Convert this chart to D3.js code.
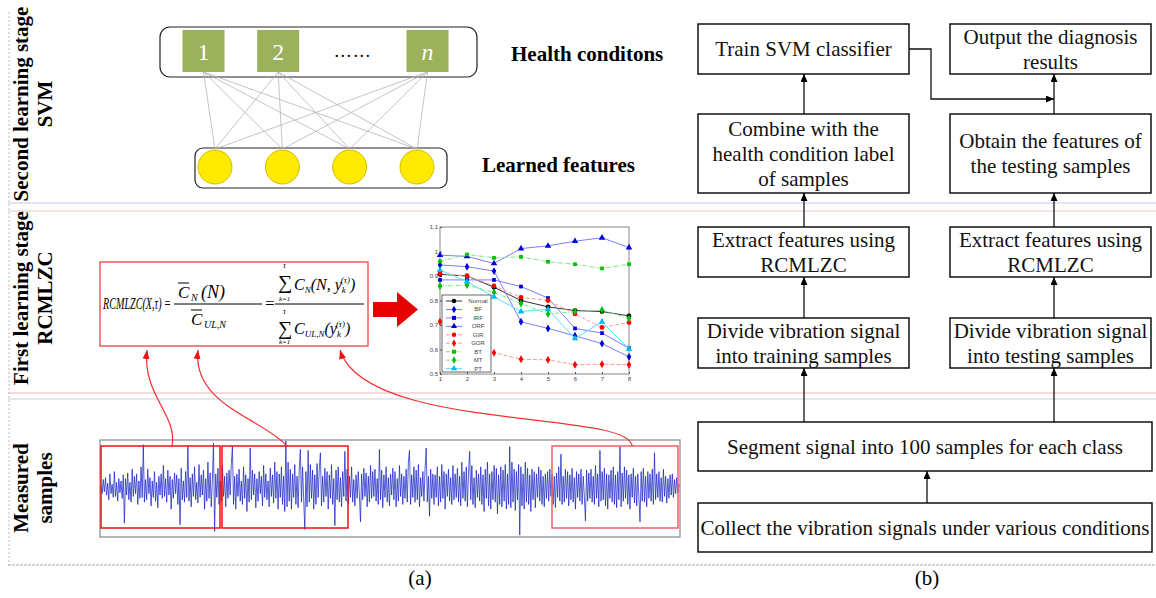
<!DOCTYPE html>
<html>
<head>
<meta charset="utf-8">
<title>Two-stage diagnosis framework</title>
<script src="https://d3js.org/d3.v7.min.js"></script>
<style>
  body { margin: 0; background: #fff; }
  svg { display: block; }
  .serif { font-family: "Liberation Serif", "Times New Roman", serif; }
  .tiny text { font-family: "Liberation Sans", Arial, sans-serif; font-size: 6px; fill: #444; }
</style>
</head>
<body>
<div id="chart"></div>
<script>
// ---- data ----
var stageLabels = [["Second learning stage", "SVM"], ["First learning stage", "RCMLZC"], ["Measured", "samples"]];
var healthLabels = ["1", "2", "n"];
var featureIds = [1, 2, 3, 4];

var scaleFactors = [1, 2, 3, 4, 5, 6, 7, 8];
var yTickValues = [0.5, 0.6, 0.7, 0.8, 0.9, 1.0, 1.1];
var seriesNames = ["Normal", "BF", "IRF", "ORF", "GIR", "GOR", "BT", "MT", "PT"];
var normalVals = [0.907, 0.900, 0.854, 0.800, 0.774, 0.759, 0.755, 0.737];
var bfVals     = [0.945, 0.938, 0.920, 0.713, 0.686, 0.656, 0.624, 0.570];
var irfVals    = [0.884, 0.884, 0.884, 0.857, 0.810, 0.686, 0.667, 0.605];
var orfVals    = [0.985, 0.980, 0.951, 1.012, 1.023, 1.042, 1.056, 1.016];
var girVals    = [0.910, 0.900, 0.860, 0.813, 0.800, 0.745, 0.690, 0.710];
var gorVals    = [0.713, 0.650, 0.587, 0.560, 0.558, 0.538, 0.540, 0.538];
var btVals     = [0.960, 0.988, 0.974, 0.978, 0.958, 0.948, 0.931, 0.948];
var mtVals     = [0.859, 0.863, 0.833, 0.788, 0.745, 0.755, 0.761, 0.727];
var ptVals     = [0.924, 0.877, 0.815, 0.755, 0.764, 0.645, 0.713, 0.602];

var trainColumn = [["Train SVM classifier"], ["Combine with the", "health condition label", "of samples"],
                   ["Extract features using", "RCMLZC"], ["Divide vibration signal", "into training samples"]];
var testColumn  = [["Output the diagnosis", "results"], ["Obtain the features of", "the testing samples"],
                   ["Extract features using", "RCMLZC"], ["Divide vibration signal", "into testing samples"]];
var segmentText = ["Segment signal into 100 samples for each class"];
var collectText = ["Collect the vibration signals under various conditions"];
var panelCaptions = ["(a)", "(b)"];

// vibration signal, amplitude (percent of the strip half-height)
var signalVals = [
  5,-12,18,-8,22,-15,10,-25,30,-12,8,-20,35,-18,12,-28,20,-10,15,-22,
  28,-75,20,-15,32,-25,12,-30,40,-18,25,-12,30,-35,15,-22,45,-20,92,-30,
  18,-25,40,-12,22,-38,15,-20,35,-28,12,-42,25,-15,30,-22,48,-18,20,-30,
  38,-15,25,-45,18,-22,32,-12,28,-35,20,-78,42,-25,15,-30,35,-20,90,-28,
  22,-40,30,-18,45,-25,12,-32,50,-20,28,-15,38,-45,20,-28,55,-22,32,-40,
  18,95,-92,30,-20,42,-35,15,-28,48,-18,25,-40,32,-22,38,-15,50,88,-35,
  25,-45,30,-18,40,-28,15,-35,45,-22,28,-50,20,-30,85,-25,38,-15,30,-42,
  20,-28,35,-12,25,-38,48,-20,30,-25,15,-40,42,-18,28,-32,55,-22,35,-45,
  30,-20,45,-35,25,-50,100,-40,55,-28,40,-45,30,-20,50,-35,25,-42,38,82,
  -30,45,-25,-88,35,-40,80,-30,50,-22,38,-45,28,-35,52,-20,40,75,-38,25,
  -30,42,-18,35,-45,28,-22,50,-35,20,-80,38,-25,45,-30,22,-40,35,-18,78,
  -28,40,-35,25,-20,45,-30,18,-38,28,-22,35,-15,-72,30,-25,42,-18,32,-40,
  25,-30,48,-22,35,-18,40,-28,20,-35,82,-25,38,-42,28,-20,45,-30,22,-38,
  30,-15,42,-25,35,-40,20,-28,48,-18,30,-35,25,-22,40,-30,55,80,-35,28,
  -20,45,-30,38,-25,50,-40,22,-18,35,-28,42,85,-30,25,-60,40,-22,30,-35,
  28,-20,45,-38,25,-30,50,-22,35,-45,30,-18,40,-28,22,-35,48,-25,30,-20,
  42,-30,25,-38,55,-22,35,-28,45,-40,30,78,-25,48,-35,22,-42,38,-20,30,
  -28,45,-35,28,-50,40,-22,55,-38,30,-45,35,-25,48,-30,42,-55,28,-35,45,
  -40,38,-28,50,-45,30,-35,88,-42,55,-30,40,-48,35,-25,50,-100,45,-38,30,
  -45,55,-30,42,-35,28,-50,40,-25,35,-42,30,-20,45,-28,38,-35,25,-40,30,
  -22,35,-28,40,-18,30,-35,25,-42,32,-20,45,-28,72,-35,25,-30,40,-22,35,
  -38,28,-25,42,-30,22,-45,35,-20,30,-28,40,-35,25,-18,-70,38,-28,32,-22,
  40,-30,25,-35,48,-22,30,-40,80,-28,35,-25,42,-38,30,-45,28,-22,38,-30,
  45,-35,28,-42,35,-25,88,-40,32,-28,45,-22,38,-35,28,-45,30,-20,42,-32,
  25,-38,30,-22,-72,35,-28,42,-30,25,-40,35,-22,30,-28,40,-35,75,-25,30,
  -20,35,-28,22,-30,40,-18,25,-32,20,-22,28,-15,30,-20,18,-12,22,-10,8
];

// ---- drawing ----
var width = 1156, height = 598;
var svg = d3.select("#chart").append("svg")
    .attr("width", width).attr("height", height);
svg.append("rect").attr("width", width).attr("height", height).attr("fill", "#fff");

var defs = svg.append("defs");
defs.append("marker").attr("id", "ah").attr("markerUnits", "userSpaceOnUse")
    .attr("markerWidth", 9).attr("markerHeight", 8).attr("refX", 8).attr("refY", 3.5)
    .attr("orient", "auto")
  .append("path").attr("d", "M0,0 L8,3.5 L0,7 z").attr("fill", "#000");
defs.append("marker").attr("id", "ahRed").attr("markerUnits", "userSpaceOnUse")
    .attr("markerWidth", 10).attr("markerHeight", 8).attr("refX", 9).attr("refY", 3.5)
    .attr("orient", "auto")
  .append("path").attr("d", "M0,0 L9,3.5 L0,7 z").attr("fill", "#f01010");

// faint section separators and frame
var sep = [[203, "#c9c9f2"], [211, "#f3c4c4"], [393, "#f2b5b5"], [399, "#cfcfcf"]];
sep.forEach(function(s) {
  svg.append("line").attr("x1", 8).attr("x2", width).attr("y1", s[0]).attr("y2", s[0])
     .attr("stroke", s[1]).attr("stroke-width", 1);
});
svg.append("line").attr("x1", 9).attr("x2", 9).attr("y1", 12).attr("y2", 565)
   .attr("stroke", "#bbb").attr("stroke-dasharray", "2,2");
svg.append("line").attr("x1", 8).attr("x2", width).attr("y1", 565).attr("y2", 565)
   .attr("stroke", "#aaa").attr("stroke-dasharray", "3,1");

// stage labels (rotated)
var stageCenters = [104, 298, 488];
stageLabels.forEach(function(lbl, i) {
  [28, 52].forEach(function(bx, j) {
    svg.append("text").attr("class", "serif")
       .attr("transform", "translate(" + bx + "," + stageCenters[i] + ") rotate(-90)")
       .attr("text-anchor", "middle").attr("font-weight", "bold").attr("font-size", 21)
       .text(lbl[j]);
  });
});

// ---- SVM stage ----
var nodeX = d3.scalePoint().domain(["1", "2", "dots", "n"]).range([203.5, 427.5]);
var featX = d3.scalePoint().domain(featureIds).range([215, 417]);
var sqTop = 30, sq = 42, circY = 167, circR = 17;

svg.append("rect").attr("x", 160).attr("y", 27).attr("width", 317).attr("height", 50)
   .attr("rx", 10).attr("fill", "#fff").attr("stroke", "#222").attr("stroke-width", 1.2);
svg.append("rect").attr("x", 195).attr("y", 148).attr("width", 252).attr("height", 40)
   .attr("rx", 8).attr("fill", "#fff").attr("stroke", "#222").attr("stroke-width", 1.2);

healthLabels.forEach(function(h) {
  featureIds.forEach(function(f) {
    svg.append("line").attr("x1", nodeX(h)).attr("y1", sqTop + sq)
       .attr("x2", featX(f)).attr("y2", circY - circR - 1)
       .attr("stroke", "#b5b5b5").attr("stroke-width", 0.8);
  });
});
svg.selectAll(".hsq").data(healthLabels).enter().append("rect")
   .attr("x", function(d) { return nodeX(d) - sq / 2; }).attr("y", sqTop)
   .attr("width", sq).attr("height", sq).attr("fill", "#9bb15c");
svg.selectAll(".hlb").data(healthLabels).enter().append("text").attr("class", "serif")
   .attr("x", function(d) { return nodeX(d); }).attr("y", sqTop + 30)
   .attr("text-anchor", "middle").attr("font-size", 24).attr("fill", "#fff")
   .attr("font-style", function(d) { return d === "n" ? "italic" : "normal"; })
   .text(function(d) { return d; });
svg.append("text").attr("class", "serif").attr("x", nodeX("dots")).attr("y", 57)
   .attr("text-anchor", "middle").attr("font-size", 18).attr("letter-spacing", 1).text("……");

svg.selectAll(".feat").data(featureIds).enter().append("circle")
   .attr("cx", function(d) { return featX(d); }).attr("cy", circY).attr("r", circR)
   .attr("fill", "#ffea00").attr("stroke", "#d2bf00").attr("stroke-width", 1);

svg.append("text").attr("class", "serif").attr("x", 511).attr("y", 61)
   .attr("font-weight", "bold").attr("font-size", 21).text("Health conditons");
svg.append("text").attr("class", "serif").attr("x", 482).attr("y", 172)
   .attr("font-weight", "bold").attr("font-size", 21).text("Learned features");

// ---- RCMLZC stage: formula ----
svg.append("rect").attr("x", 100).attr("y", 262).attr("width", 268).attr("height", 84)
   .attr("fill", "#fff").attr("stroke", "#f04040").attr("stroke-width", 1.3);
var fg = svg.append("g").attr("class", "serif").attr("font-style", "italic").attr("fill", "#000");
// squeeze a text horizontally to a target width (the figure's formula is condensed)
function squeezed(x, y, size, w, str) {
  var t = fg.append("text").attr("font-size", size).text(str);
  var len = t.node().getComputedTextLength();
  t.attr("transform", "translate(" + x + "," + y + ") scale(" + Math.min(1, w / len) + ",1)");
  return t;
}
squeezed(103, 309, 17, 68, "RCMLZC(X,τ) =");
// first fraction
fg.append("text").attr("x", 178).attr("y", 298).attr("font-size", 17).text("C");
fg.append("text").attr("x", 191).attr("y", 301).attr("font-size", 10).text("N");
squeezed(201, 298, 18, 26, "(N)");
fg.append("line").attr("x1", 178).attr("x2", 189).attr("y1", 283).attr("y2", 283).attr("stroke", "#000").attr("stroke-width", 1);
fg.append("line").attr("x1", 174).attr("x2", 262).attr("y1", 304).attr("y2", 304).attr("stroke", "#000").attr("stroke-width", 1);
fg.append("text").attr("x", 191).attr("y", 325).attr("font-size", 17).text("C");
fg.append("text").attr("x", 204).attr("y", 328).attr("font-size", 10).text("UL,N");
fg.append("line").attr("x1", 191).attr("x2", 202).attr("y1", 310).attr("y2", 310).attr("stroke", "#000").attr("stroke-width", 1);
fg.append("text").attr("x", 265).attr("y", 309).attr("font-size", 17).attr("font-style", "normal").text("=");
// second fraction
fg.append("line").attr("x1", 275).attr("x2", 364).attr("y1", 304).attr("y2", 304).attr("stroke", "#000").attr("stroke-width", 1);
[[289, 268, 301, 20], [335, 314, 344, 20]].forEach(function(p) {
  fg.append("text").attr("x", 278).attr("y", p[0]).attr("font-size", p[3]).attr("font-style", "normal").text("∑");
  fg.append("text").attr("x", 283).attr("y", p[1]).attr("font-size", 8).text("τ");
  fg.append("text").attr("x", 279).attr("y", p[2]).attr("font-size", 7).text("k=1");
});
var n2 = fg.append("text").attr("x", 294).attr("y", 290).attr("font-size", 16);
n2.append("tspan").text("C");
n2.append("tspan").attr("font-size", 9).attr("dy", 3).text("N");
n2.append("tspan").attr("dy", -3).text("(N, y");
n2.append("tspan").attr("font-size", 9).attr("dy", 3).text("k");
n2.append("tspan").attr("font-size", 9).attr("dx", -5).attr("dy", -10).text("(τ)");
n2.append("tspan").attr("dy", 7).text(")");
var d2 = fg.append("text").attr("x", 294).attr("y", 334).attr("font-size", 16);
d2.append("tspan").text("C");
d2.append("tspan").attr("font-size", 9).attr("dy", 3).text("UL,N");
d2.append("tspan").attr("dy", -3).text("(y");
d2.append("tspan").attr("font-size", 9).attr("dy", 3).text("k");
d2.append("tspan").attr("font-size", 9).attr("dx", -5).attr("dy", -10).text("(τ)");
d2.append("tspan").attr("dy", 7).text(")");

// red block arrow
svg.append("path").attr("d", "M373,302 L397,302 L397,292 L418,309.5 L397,327 L397,317 L373,317 Z")
   .attr("fill", "#e60000");

// ---- RCMLZC stage: mini line chart ----
var cx = d3.scaleLinear().domain([1, 8]).range([440, 629]);
var cy = d3.scaleLinear().domain([0.5, 1.1]).range([374, 227]);
var mini = svg.append("g").attr("class", "tiny");
mini.append("rect").attr("x", 440).attr("y", 227).attr("width", 189).attr("height", 147)
    .attr("fill", "#fff").attr("stroke", "#555").attr("stroke-width", 0.7);
mini.append("g").attr("transform", "translate(0,374)")
    .call(d3.axisBottom(cx).tickValues(scaleFactors).tickSize(-2).tickPadding(3).tickFormat(d3.format("d")))
    .call(function(g) { g.select(".domain").remove(); g.selectAll("line").attr("stroke", "#555"); });
mini.append("g").attr("transform", "translate(440,0)")
    .call(d3.axisLeft(cy).tickValues(yTickValues).tickSize(-2).tickPadding(2).tickFormat(d3.format("~g")))
    .call(function(g) { g.select(".domain").remove(); g.selectAll("line").attr("stroke", "#555"); });

var seriesValues = [normalVals, bfVals, irfVals, orfVals, girVals, gorVals, btVals, mtVals, ptVals];
var seriesStyle = {
  Normal: { line: "#333",    mark: "#000",    dash: null,    sym: d3.symbolCircle },
  BF:     { line: "#7d7dff", mark: "#0000d8", dash: null,    sym: d3.symbolDiamond },
  IRF:    { line: "#7d7dff", mark: "#0000d8", dash: null,    sym: d3.symbolSquare },
  ORF:    { line: "#7d7dff", mark: "#0000d8", dash: null,    sym: d3.symbolTriangle },
  GIR:    { line: "#ff9a9a", mark: "#ff0000", dash: "4,2",   sym: d3.symbolCircle },
  GOR:    { line: "#ff9a9a", mark: "#ff0000", dash: "4,2",   sym: d3.symbolDiamond },
  BT:     { line: "#7ee07e", mark: "#00c000", dash: "4,1.5,1,1.5", sym: d3.symbolSquare },
  MT:     { line: "#7ee07e", mark: "#00c000", dash: "4,1.5,1,1.5", sym: d3.symbolDiamond },
  PT:     { line: "#58e0ff", mark: "#00b8f0", dash: null,    sym: d3.symbolTriangle }
};
var miniLine = d3.line().x(function(d, i) { return cx(scaleFactors[i]); }).y(function(d) { return cy(d); });
seriesNames.forEach(function(name, k) {
  var st = seriesStyle[name];
  mini.append("path").datum(seriesValues[k]).attr("d", miniLine)
      .attr("fill", "none").attr("stroke", st.line).attr("stroke-width", 1)
      .attr("stroke-dasharray", st.dash);
  mini.selectAll(".m" + k).data(seriesValues[k]).enter().append("path")
      .attr("transform", function(d, i) { return "translate(" + cx(scaleFactors[i]) + "," + cy(d) + ")"; })
      .attr("d", d3.symbol().type(st.sym).size(st.sym === d3.symbolSquare ? 14 : 18))
      .attr("fill", st.mark);
});
// legend
var lg = mini.append("g");
lg.append("rect").attr("x", 442).attr("y", 295).attr("width", 49).attr("height", 77)
  .attr("fill", "#fff").attr("stroke", "#444").attr("stroke-width", 0.8);
seriesNames.forEach(function(name, k) {
  var st = seriesStyle[name], y = 301 + k * 8.45;
  lg.append("line").attr("x1", 446).attr("x2", 462).attr("y1", y).attr("y2", y)
    .attr("stroke", st.line).attr("stroke-width", 1).attr("stroke-dasharray", st.dash);
  lg.append("path").attr("transform", "translate(454," + y + ")")
    .attr("d", d3.symbol().type(st.sym).size(16)).attr("fill", st.mark);
  lg.append("text").attr("x", 478).attr("y", y + 2).attr("text-anchor", "middle")
    .attr("font-size", 5.5).text(name);
});

// ---- measured samples: signal strip ----
svg.append("rect").attr("x", 100).attr("y", 440).attr("width", 580).attr("height", 97)
   .attr("fill", "#fff").attr("stroke", "#888").attr("stroke-width", 1.2);
var sx = d3.scaleLinear().domain([0, signalVals.length - 1]).range([101, 679]);
var sy = d3.scaleLinear().domain([-100, 100]).range([535, 441]);
svg.append("path").datum(signalVals)
   .attr("d", d3.line().x(function(d, i) { return sx(i); }).y(function(d) { return sy(d); }))
   .attr("fill", "none").attr("stroke", "#1420c0").attr("stroke-width", 0.8).attr("stroke-opacity", 0.9);
[[101, 220], [222, 348], [552, 678]].forEach(function(b, i) {
  svg.append("rect").attr("x", b[0]).attr("y", 446).attr("width", b[1] - b[0]).attr("height", 82)
     .attr("fill", "none").attr("stroke", i < 2 ? "#ee1111" : "#f06060").attr("stroke-width", 1.5);
});
// red connectors up to the formula
var redCurves = ["M172,446 C178,415 142,395 147,350",
                 "M287,446 C262,418 192,405 198,350",
                 "M632,446 C630,410 365,432 340,350"];
redCurves.forEach(function(d) {
  svg.append("path").attr("d", d).attr("fill", "none").attr("stroke", "#f03030")
     .attr("stroke-width", 1.2).attr("marker-end", "url(#ahRed)");
});

// ---- flowchart (b) ----
var fc = svg.append("g").attr("class", "serif");
function box(x, y, w, h, lines) {
  fc.append("rect").attr("x", x).attr("y", y).attr("width", w).attr("height", h)
    .attr("fill", "#fff").attr("stroke", "#111").attr("stroke-width", 1.5);
  var lh = 25, top = y + h / 2 - (lines.length - 1) * lh / 2 + 7;
  lines.forEach(function(t, i) {
    fc.append("text").attr("x", x + w / 2).attr("y", top + i * lh).attr("text-anchor", "middle")
      .attr("font-size", 21).attr("fill", "#111").text(t);
  });
}
function arrow(pts) {
  fc.append("path").attr("d", d3.line()(pts)).attr("fill", "none").attr("stroke", "#111")
    .attr("stroke-width", 1.3).attr("marker-end", "url(#ah)");
}
var rowsY = [[24, 50], [114, 79], [227, 50], [318, 50]];
trainColumn.forEach(function(t, i) { box(698, rowsY[i][0], 211, rowsY[i][1], t); });
testColumn.forEach(function(t, i) { box(950, rowsY[i][0], 201, rowsY[i][1], t); });
box(698, 422, 454, 49, segmentText);
box(698, 503, 454, 49, collectText);

[804, 1054].forEach(function(x) {
  for (var i = 1; i < rowsY.length; i++) {
    arrow([[x, rowsY[i][0]], [x, rowsY[i - 1][0] + rowsY[i - 1][1]]]);
  }
  arrow([[x, 422], [x, 368]]);
});
arrow([[927, 503], [927, 471]]);
arrow([[909, 49], [931, 49], [931, 99], [1054, 99]]);

// captions
svg.selectAll(".cap").data(panelCaptions).enter().append("text").attr("class", "serif")
   .attr("x", function(d, i) { return i === 0 ? 420 : 927; }).attr("y", 585)
   .attr("text-anchor", "middle").attr("font-size", 21).text(function(d) { return d; });
</script>
</body>
</html>
